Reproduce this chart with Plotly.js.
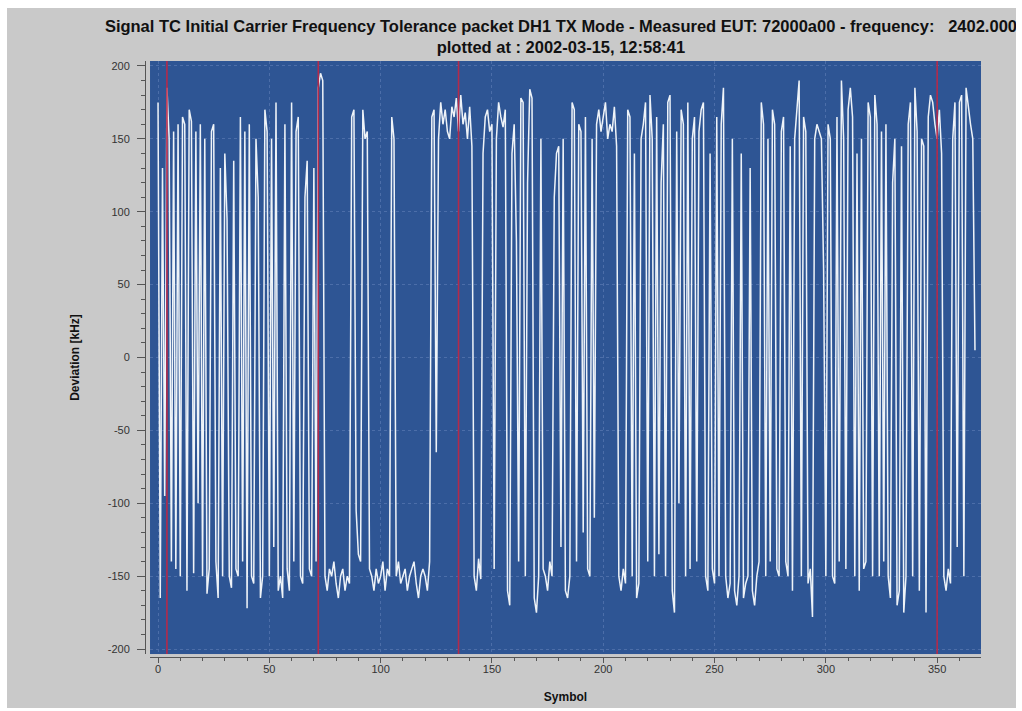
<!DOCTYPE html>
<html>
<head>
<meta charset="utf-8">
<script src="https://cdn.plot.ly/plotly-3.0.1.min.js"></script>
<style>
  html, body { margin:0; padding:0; background:#ffffff; }
  #chart { position:absolute; left:7px; top:8px; width:1009px; height:700px; }
</style>
</head>
<body>
<div id="chart"></div>
<script>
// Deviation [kHz] read per symbol (hand-estimated from the reference)
const deviation = [
  175, -165, 130, -95, 185, 150, -140, 155, -145, 160,
  -150, 165, 160, -160, 170, 162, -148, 155, -100, 160,
  -150, 150, -162, -145, 155, 160, -140, -165, 130, -150,
  140, 95, -150, -158, 135, -145, -150, 165, -140, 155,
  -172, 160, -150, -155, 150, 110, -165, -150, 170, 155,
  -150, 150, -130, 175, -160, -150, -165, 160, -145, -160,
  175, -140, 155, 165, -150, -155, 110, 135, -145, -150,
  130, -140, 185, 195, 190, -150, -160, -145, -150, -140,
  -155, -165, -150, -145, -160, -150, -155, 165, 170, -105,
  -135, -140, 170, 150, 155, -145, -150, -160, -145, -155,
  -150, -140, -160, -145, -150, 165, 150, -150, -140, -155,
  -150, -145, -160, -150, -145, -140, -155, -165, -150, -145,
  -150, -160, -140, 165, 170, -65, 150, 175, 160, 170,
  155, 150, 172, 165, 178, 155, 180, 160, 168, 150,
  172, 145, -150, -160, -138, -152, 140, 165, 170, 155,
  160, -145, 150, 175, 165, 158, 170, -160, -170, 140,
  160, 80, -140, 178, 175, -150, 120, 184, 178, -165,
  -175, -150, 150, -145, -150, -160, -140, -150, 110, 140,
  145, -130, 150, -160, -165, -150, 175, 170, -140, 160,
  155, -120, 165, -145, -150, 150, -110, 160, 170, 155,
  165, 175, 150, 160, 155, 172, 145, -150, -160, -145,
  -155, 170, 165, -150, 140, -165, -155, 150, 160, 175,
  -140, 180, 150, -150, 165, -135, 120, 160, -150, 175,
  180, -160, -175, 155, -100, 170, 160, -150, 175, -145,
  150, 165, -140, 155, 170, 175, -150, -160, 140, -145,
  -155, 165, -150, 160, 185, -150, -165, -155, 150, -160,
  -170, -150, 140, -165, -155, -150, 130, -160, -170, -150,
  -140, 175, 160, -150, 150, -140, 170, 160, -145, -150,
  155, 165, -140, -150, 145, -160, 150, 170, 190, -150,
  165, 155, -155, -145, -178, 150, 160, 155, 150, 60,
  -150, 160, 150, -150, -155, 165, -140, 190, 150, -145,
  170, 185, 165, -150, 140, -160, 150, -145, -140, 175,
  165, -150, 180, 160, -150, 155, -140, 160, -150, -165,
  120, 150, -170, -160, 145, -175, -150, 160, 175, -150,
  185, 155, -160, 150, 145, -175, 165, 180, 175, 160,
  150, 170, 140, -150, -160, -145, -155, 150, 175, -130,
  175, 180, -150, 185, 170, 160, 150, 5
];
const symbols = deviation.map((_, i) => i);

// Red marker positions (symbol index)
const markerSymbols = [4, 72, 135, 350];

const xTickVals = [0, 50, 100, 150, 200, 250, 300, 350];
const yTickVals = [-200, -150, -100, -50, 0, 50, 100, 150, 200];

const titleLine1 = 'Signal TC Initial Carrier Frequency Tolerance packet DH1 TX Mode - Measured EUT: 72000a00 - frequency:\u00a0\u00a0\u00a02402.000';
const titleLine2 = 'plotted at : 2002-03-15, 12:58:41';

const traces = [{
  x: symbols,
  y: deviation,
  type: 'scatter',
  mode: 'lines',
  line: { color: '#eef3f8', width: 1.5 },
  hoverinfo: 'skip'
}];

const shapes = markerSymbols.map(s => ({
  type: 'line', xref: 'x', yref: 'y domain',
  x0: s, x1: s, y0: 0, y1: 1,
  line: { color: '#b42a4a', width: 1.6 }
}));

const font = 'Liberation Sans, Arial, sans-serif';

const layout = {
  width: 1009, height: 700,
  paper_bgcolor: '#c9c9c9',
  plot_bgcolor: '#2e5594',
  margin: { l: 138, r: 35, t: 53, b: 51, pad: 0 },
  showlegend: false,
  font: { family: font, color: '#222' },
  title: {
    text: '<b>' + titleLine1 + '</b><br><b>' + titleLine2 + '</b>',
    font: { family: font, size: 16.5, color: '#111' },
    x: 0.549, xanchor: 'center', xref: 'container',
    y: 0.966, yanchor: 'top', yref: 'container'
  },
  xaxis: {
    domain: [0.006, 1],
    range: [-3.6, 369.7],
    anchor: 'free', position: 0,
    showline: true, linecolor: '#555', linewidth: 1,
    ticks: 'outside', ticklen: 5, tickcolor: '#555', tickwidth: 1,
    tickvals: xTickVals, ticktext: xTickVals.map(String),
    minor: { dtick: 10, tick0: 0, ticks: 'outside', ticklen: 3, tickcolor: '#555', showgrid: false },
    showgrid: true, gridcolor: '#4c6ea9', gridwidth: 1, griddash: 'dot',
    zeroline: false,
    ticklabelstandoff: -3,
    tickfont: { family: font, size: 11, color: '#333' },
    title: { text: '<b>Symbol</b>', font: { family: font, size: 12, color: '#111' }, standoff: 18 }
  },
  yaxis: {
    domain: [0.005, 1],
    range: [-203.4, 203.4],
    anchor: 'free', position: 0,
    showline: true, linecolor: '#555', linewidth: 1,
    ticks: 'outside', ticklen: 8, tickcolor: '#555', tickwidth: 1,
    tickvals: yTickVals, ticktext: yTickVals.map(String),
    minor: { dtick: 10, tick0: 0, ticks: 'outside', ticklen: 4, tickcolor: '#555', showgrid: false },
    showgrid: true, gridcolor: '#4c6ea9', gridwidth: 1, griddash: 'dot',
    zeroline: false,
    ticklabelstandoff: 5,
    tickfont: { family: font, size: 11, color: '#333' },
    title: { text: '<b>Deviation [kHz]</b>', font: { family: font, size: 12, color: '#111' }, standoff: 24 }
  },
  shapes: shapes
};

Plotly.newPlot('chart', traces, layout, { displayModeBar: false, staticPlot: true });
</script>
</body>
</html>
